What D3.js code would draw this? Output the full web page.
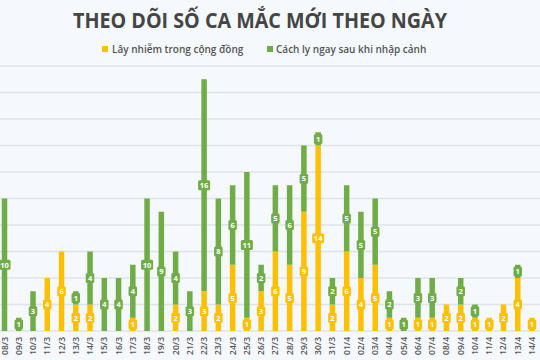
<!DOCTYPE html>
<html><head><meta charset="utf-8">
<script src="https://cdn.jsdelivr.net/npm/d3@7"></script>
<style>html,body{margin:0;padding:0;background:#f5f8fc;}svg{display:block;}</style>
</head><body><svg id="c" width="540" height="360"></svg>
<script>
const dates = ["08/3","09/3","10/3","11/3","12/3","13/3","14/3","15/3","16/3","17/3","18/3","19/3","20/3","21/3","22/3","23/3","24/3","25/3","26/3","27/3","28/3","29/3","30/3","31/3","01/4","02/4","03/4","04/4","05/4","06/4","07/4","08/4","09/4","10/4","11/4","12/4","13/4","14/4"];
const community = [0,0,0,4,6,2,2,0,0,1,0,0,2,0,3,2,5,1,3,6,5,9,14,2,6,4,5,1,0,1,1,2,2,1,1,2,4,1];
const quarantine = [10,1,3,0,0,1,4,4,4,4,10,9,4,3,16,8,6,11,2,5,6,5,1,2,5,5,5,2,1,3,3,0,2,1,0,0,1,0];
const gridTicks = [0,2,4,6,8,10,12,14,16,18,20];
const seriesNames = ["Lây nhiễm trong cộng đồng","Cách ly ngay sau khi nhập cảnh"];
const colors = ["#FFC000","#70AD47"];
const title = "THEO DÕI SỐ CA MẮC MỚI THEO NGÀY";

const svg = d3.select("#c");
svg.append("rect").attr("width",540).attr("height",360).attr("fill","#f5f8fc");

const x = d3.scalePoint().domain(dates).range([4.5, 532]);
const y = d3.scaleLinear().domain([0,20]).range([331, 66]);

// gridlines
svg.append("g").selectAll("line").data(gridTicks).join("line")
  .attr("x1",0).attr("x2",540)
  .attr("y1",d=>y(d)).attr("y2",d=>y(d))
  .attr("stroke","#dfe3e8").attr("stroke-width",1.5);

// title
svg.append("text").attr("x",260).attr("y",28).attr("text-anchor","middle")
  .attr("font-family","Open Sans, sans-serif").attr("font-weight",700)
  .attr("font-size",21).attr("fill","#454545")
  .attr("textLength",374).attr("lengthAdjust","spacingAndGlyphs").text(title);

// legend
const leg = [{x:102, tx:112}, {x:267, tx:276}];
seriesNames.forEach((n,i)=>{
  svg.append("rect").attr("x",leg[i].x).attr("y",46).attr("width",6).attr("height",6).attr("fill",colors[i]);
  svg.append("text").attr("x",leg[i].tx).attr("y",52.5)
    .attr("font-family","Open Sans, sans-serif").attr("font-size",10).attr("font-weight",600)
    .attr("fill","#555").text(n);
});

const data = dates.map((d,i)=>({date:d, c:community[i], q:quarantine[i]}));
const stack = d3.stack().keys(["c","q"])(data);
const bw = 5.5;

stack.forEach((layer,li)=>{
  const g = svg.append("g");
  g.selectAll("rect").data(layer).join("rect")
    .attr("x",d=>x(d.data.date)-bw/2).attr("width",bw)
    .attr("y",d=>y(d[1])).attr("height",d=>y(d[0])-y(d[1]))
    .attr("fill",colors[li]);
});

// value labels
stack.forEach((layer,li)=>{
  layer.forEach(d=>{
    const v = d[1]-d[0];
    if(v<=0) return;
    const cx = x(d.data.date), cy = (y(d[0])+y(d[1]))/2;
    const s = String(v);
    const w = s.length>1 ? 12 : 8.5;
    svg.append("rect").attr("x",cx-w/2).attr("y",cy-5).attr("width",w).attr("height",10)
      .attr("rx",1.5).attr("fill",colors[li]);
    svg.append("text").attr("x",cx).attr("y",cy+2.8).attr("text-anchor","middle")
      .attr("font-family","Open Sans, sans-serif").attr("font-weight",700).attr("font-size",7.5)
      .attr("fill","#fff").text(s);
  });
});

// x labels
svg.append("g").selectAll("text").data(dates).join("text")
  .attr("transform",d=>`translate(${x(d)+3},337) rotate(-90)`)
  .attr("text-anchor","end")
  .attr("font-family","Open Sans, sans-serif").attr("font-weight",600).attr("font-size",8.5)
  .attr("fill","#555").text(d=>d);
</script></body></html>
